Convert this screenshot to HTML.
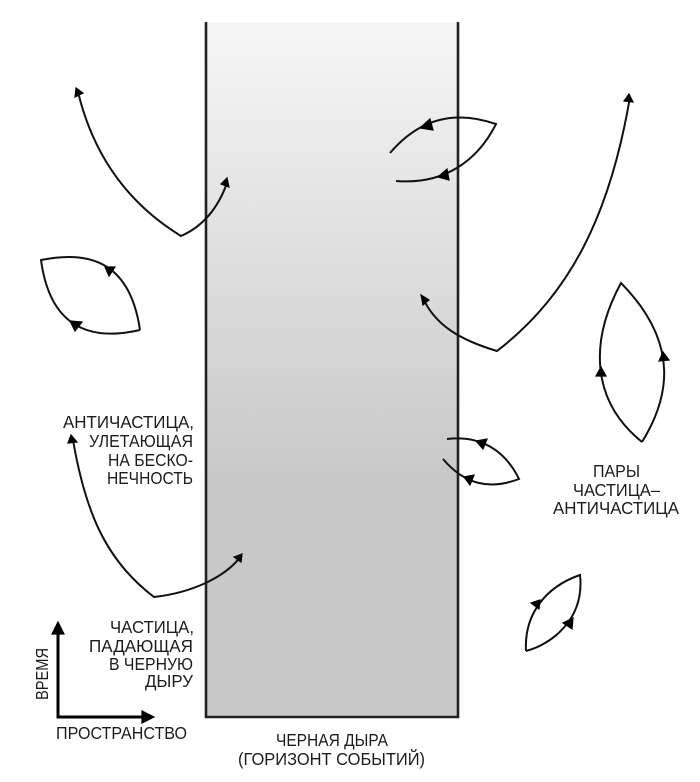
<!DOCTYPE html>
<html>
<head>
<meta charset="utf-8">
<style>
html,body{margin:0;padding:0;background:#fff;width:700px;height:782px;overflow:hidden}
svg{display:block;filter:blur(0.35px)}
text{font-family:"Liberation Sans","DejaVu Sans",sans-serif;font-size:17.5px;fill:#1c1c1c}
.c{fill:none;stroke:#111;stroke-width:2;stroke-linejoin:miter}
polygon{fill:#000;stroke:#000;stroke-width:1.2;stroke-linejoin:miter}
</style>
</head>
<body>
<svg width="700" height="782" viewBox="0 0 700 782" xmlns="http://www.w3.org/2000/svg">
<defs>
<linearGradient id="g" x1="0" y1="0" x2="0" y2="1">
<stop offset="0" stop-color="#f6f6f6"/>
<stop offset="0.66" stop-color="#c8c8c8"/>
<stop offset="1" stop-color="#c8c8c8"/>
</linearGradient>
</defs>
<rect x="0" y="0" width="700" height="782" fill="#fff"/>
<rect x="206" y="22" width="252" height="695" fill="url(#g)"/>
<path d="M206,22 V717 H458 V22" fill="none" stroke="#222" stroke-width="2.6"/>

<!-- top-left escaping pair -->
<path class="c" d="M78,92 Q101,187 181,236 Q213,222 227,183"/>
<polygon points="76,88 83,93 75,97"/>
<polygon points="227,178 229,187 221,184"/>

<!-- left leaf -->
<path class="c" d="M140,330 C130,262 90,250 41,260 C48,312 75,345 140,330"/>
<polygon points="105,267 115,267 109,276"/>
<polygon points="70,321 82,322 75,331"/>

<!-- upper right pair -->
<path class="c" d="M390,153 C420,118 455,110 496,124 C478,160 445,185 396,181"/>
<polygon points="420,128 430,119 433,130"/>
<polygon points="438,177 447,169 449,180"/>

<!-- right escaping pair -->
<path class="c" d="M630,97 C610,215 570,295 497,351 C460,340 435,325 423,298"/>
<polygon points="629,94 633,102 624,101"/>
<polygon points="421,295 429,300 423,305"/>

<!-- right leaf -->
<path class="c" d="M642,442 C668,400 682,345 621,283 C590,340 590,400 642,442"/>
<polygon points="663,352 669,360 659,361"/>
<polygon points="601,367 606,376 596,376"/>

<!-- middle right pair -->
<path class="c" d="M447,439 C480,435 505,450 519,479 C490,490 465,485 443,459"/>
<polygon points="476,441 487,439 483,449"/>
<polygon points="464,477 474,475 470,485"/>

<!-- bottom leaf -->
<path class="c" d="M526,651 C524,615 545,587 580,575 C585,620 550,645 526,651"/>
<polygon points="540,600 531,603 539,609"/>
<polygon points="573,618 563,623 572,629"/>

<!-- lower left pair -->
<path class="c" d="M73,440 C85,510 105,560 154,597 C190,593 225,578 241,556"/>
<polygon points="71,435 77,442 68,443"/>
<polygon points="242,554 241,562 234,557"/>

<!-- axes -->
<path d="M58,632 V717 H144" fill="none" stroke="#000" stroke-width="3"/>
<polygon points="58,622 64,634 52,634"/>
<polygon points="154,717 142,711 142,723"/>

<!-- labels -->
<text x="63" y="428" textLength="131" lengthAdjust="spacingAndGlyphs">АНТИЧАСТИЦА,</text>
<text x="89" y="447" textLength="104" lengthAdjust="spacingAndGlyphs">УЛЕТАЮЩАЯ</text>
<text x="108" y="466" textLength="85" lengthAdjust="spacingAndGlyphs">НА БЕСКО-</text>
<text x="107" y="484" textLength="86" lengthAdjust="spacingAndGlyphs">НЕЧНОСТЬ</text>

<text x="110" y="633" textLength="84" lengthAdjust="spacingAndGlyphs">ЧАСТИЦА,</text>
<text x="89" y="652" textLength="104" lengthAdjust="spacingAndGlyphs">ПАДАЮЩАЯ</text>
<text x="109" y="670" textLength="84" lengthAdjust="spacingAndGlyphs">В ЧЕРНУЮ</text>
<text x="145" y="687" textLength="48" lengthAdjust="spacingAndGlyphs">ДЫРУ</text>

<text x="56" y="739" textLength="131" lengthAdjust="spacingAndGlyphs">ПРОСТРАНСТВО</text>
<text transform="translate(48,700) rotate(-90)" x="0" y="0" textLength="52" lengthAdjust="spacingAndGlyphs">ВРЕМЯ</text>

<text x="593" y="477" textLength="47" lengthAdjust="spacingAndGlyphs">ПАРЫ</text>
<text x="573" y="496" textLength="87" lengthAdjust="spacingAndGlyphs">ЧАСТИЦА–</text>
<text x="553" y="514" textLength="126" lengthAdjust="spacingAndGlyphs">АНТИЧАСТИЦА</text>

<text x="276" y="746" textLength="112" lengthAdjust="spacingAndGlyphs">ЧЕРНАЯ ДЫРА</text>
<text x="238" y="765" textLength="187" lengthAdjust="spacingAndGlyphs">(ГОРИЗОНТ СОБЫТИЙ)</text>
</svg>
</body>
</html>
